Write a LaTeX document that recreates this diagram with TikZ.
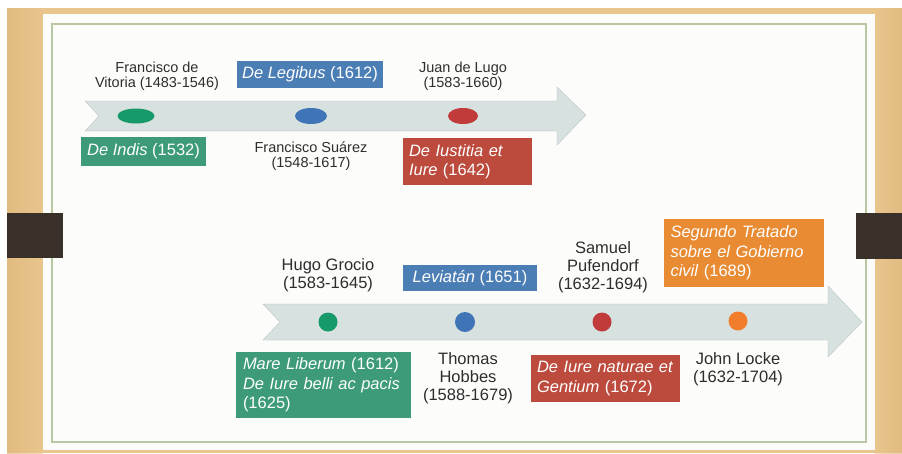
\documentclass[tikz,border=0pt]{standalone}
\usepackage{fontspec}
\setmainfont{Liberation Sans}
\usetikzlibrary{shapes.geometric}
\definecolor{wood}{HTML}{E9C68D}
\definecolor{woodd}{HTML}{DDB478}
\definecolor{board}{HTML}{FCFCFA}
\definecolor{framec}{HTML}{B9C7A2}
\definecolor{clipc}{HTML}{3A302A}
\definecolor{arrowc}{HTML}{D7E1DF}
\definecolor{txt}{HTML}{2E2E2E}
\definecolor{bgreen}{HTML}{3D9B79}
\definecolor{bblue}{HTML}{4C7EB6}
\definecolor{bred}{HTML}{BC4A3D}
\definecolor{borange}{HTML}{E88B33}
\definecolor{dgreen}{HTML}{169A6A}
\definecolor{dblue}{HTML}{3F74B6}
\definecolor{dred}{HTML}{C23B3B}
\definecolor{dorange}{HTML}{F27E2B}
\tikzset{
  labA/.style={font=\fontsize{14.5}{15}\selectfont, text=txt, align=center, inner sep=0pt},
  labB/.style={font=\fontsize{16.5}{18}\selectfont, text=txt, align=center, inner sep=0pt},
  tbox/.style={fill=#1, text=white, font=\fontsize{16.5}{19.5}\selectfont, align=left, inner xsep=6pt, inner ysep=0pt},
  sbox/.style={fill=#1, text=white, font=\fontsize{16.5}{19.5}\selectfont, inner xsep=0pt, inner ysep=0pt},
  edot/.style={ellipse, fill=#1, inner sep=0pt},
  cdot/.style={circle, fill=#1, inner sep=0pt, minimum size=19pt},
  tlarrow/.style={fill=arrowc, draw=arrowc!85!black, line width=0.3pt}
}
\begin{document}
\begin{tikzpicture}[x=1pt,y=-1pt]
\useasboundingbox (0,0) rectangle (902,453);
\fill[white] (0,0) rectangle (902,453);
\fill[wood] (7,8) rectangle (902,453);
\shade[left color=woodd, right color=wood, opacity=0.6] (7,8) rectangle (43,453);
\shade[left color=wood, right color=woodd, opacity=0.6] (875,8) rectangle (902,453);
\fill[board] (43,14) rectangle (875,450);
\draw[framec, line width=1.5pt] (52,24) rectangle (866,442);
% clips
\fill[clipc] (7,213) rectangle (63,258);
\fill[clipc] (856,213) rectangle (902,259);
% arrows
\path[tlarrow] (85,101) -- (557,101) -- (557,87) -- (586,115) -- (557,145) -- (557,131) -- (85,131) -- (99,116) -- cycle;
\path[tlarrow] (263,304) -- (828,304) -- (828,286) -- (862,322) -- (828,357) -- (828,340) -- (263,340) -- (280,322) -- cycle;
% row 1 dots
\node[edot=dgreen, minimum width=37pt, minimum height=15pt] (d1) at (136,116) {};
\node[edot=dblue, minimum width=32pt, minimum height=16pt] (d2) at (311,116) {};
\node[edot=dred, minimum width=30pt, minimum height=16pt] (d3) at (463,116) {};
% row 1 labels
\node[labA] (vitoria) at (157,76) {Francisco de\\Vitoria (1483-1546)};
\node[labA] (lugo) at (463,76.5) {Juan de Lugo\\(1583-1660)};
\node[labA] (suarez) at (311,156) {Francisco Suárez\\(1548-1617)};
% row 1 boxes
\node[sbox=bgreen, minimum width=125pt, minimum height=29pt] (indis) at (143.5,151.5) {\textit{De Indis} (1532)};
\node[sbox=bblue, minimum width=146pt, minimum height=27pt] (legibus) at (310,74.5) {\textit{De Legibus} (1612)};
\node[tbox=bred, text width=117pt, minimum height=47pt] (iustitia) at (467.5,161.5) {\textit{De Iustitia et}\\\textit{Iure} (1642)};
% row 2 dots
\node[cdot=dgreen] (e1) at (328,322) {};
\node[cdot=dblue, minimum height=20pt] (e2) at (465,322) {};
\node[cdot=dred] (e3) at (602,322) {};
\node[cdot=dorange] (e4) at (738,321) {};
% row 2 labels
\node[labB] (grocio) at (328,275.5) {Hugo Grocio\\(1583-1645)};
\node[labB] (pufendorf) at (603,267) {Samuel\\Pufendorf\\(1632-1694)};
\node[labB] (hobbes) at (468,378) {Thomas\\Hobbes\\(1588-1679)};
\node[labB] (locke) at (738,369) {John Locke\\(1632-1704)};
% row 2 boxes
\node[tbox=bgreen, text width=161pt, inner xsep=7pt, minimum height=66pt] (mare) at (323.5,385) {\textit{Mare Liberum} (1612)\\\textit{De Iure belli ac pacis}\\(1625)};
\node[sbox=bblue, minimum width=134pt, minimum height=26pt] (leviatan) at (470,278) {\textit{Leviatán} (1651)};
\node[tbox=borange, text width=147pt, inner xsep=6.5pt, minimum height=68pt] (tratado) at (744,253) {\textit{Segundo Tratado}\\\textit{sobre el Gobierno}\\\textit{civil} (1689)};
\node[tbox=bred, text width=137pt, minimum height=47pt] (naturae) at (605.5,378.5) {\textit{De Iure naturae et}\\\textit{Gentium} (1672)};
\end{tikzpicture}
\end{document}
